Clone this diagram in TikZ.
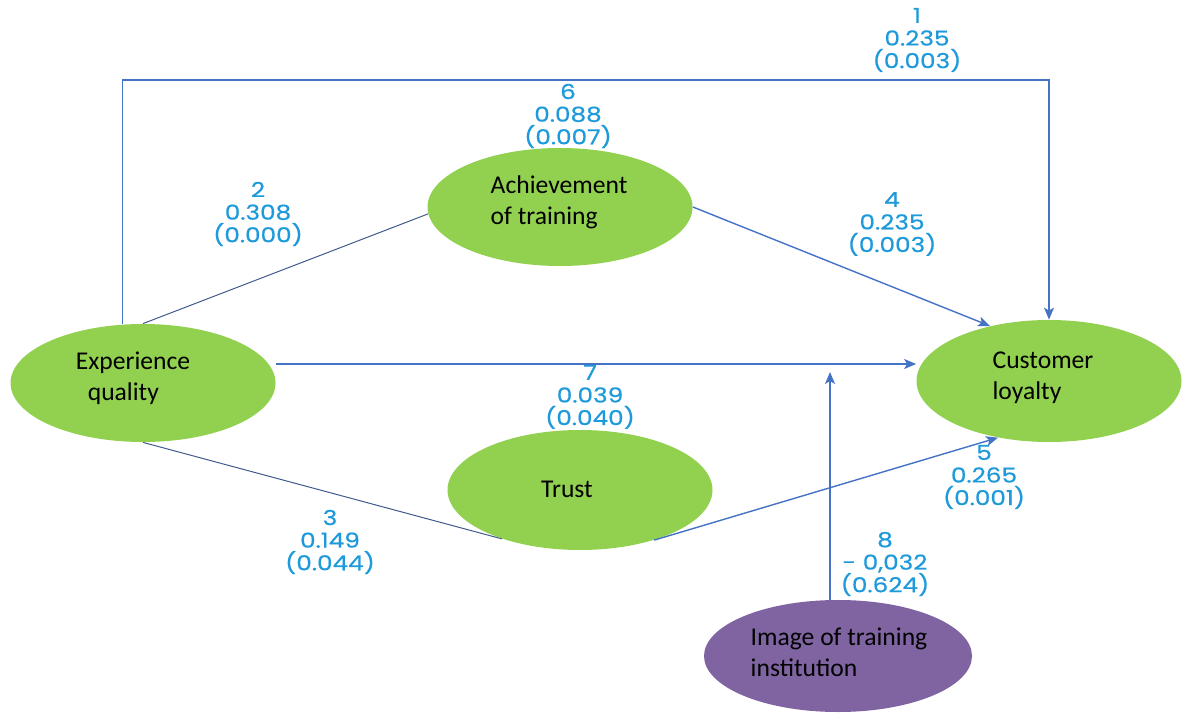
\documentclass[tikz,border=0pt]{standalone}
\usepackage{fontspec}
\setmainfont{Carlito}
\newfontfamily\labfont[FakeBold=0.5]{Poppins}
\usetikzlibrary{shapes.geometric,arrows.meta}
\definecolor{leaf}{HTML}{92D050}
\definecolor{plum}{HTML}{8064A2}
\definecolor{arrowblue}{HTML}{4472C4}
\definecolor{darkline}{HTML}{3F5A8C}
\definecolor{labblue}{HTML}{1E9ADB}
\tikzset{
  blob/.style={ellipse, fill=leaf, draw=none, inner sep=0pt, minimum width=132.5pt, minimum height=59pt},
  ntext/.style={font=\fontsize{12.8}{15.5}\selectfont, align=left, inner sep=0pt, text=black},
  lab/.style={font=\labfont\fontsize{10.3}{11.3}\selectfont, align=center, text=labblue, inner sep=0pt, xscale=1.2, transform shape},
  arr/.style={draw=arrowblue, line width=0.7pt, -{Stealth[length=6pt,width=5pt,inset=1.5pt]}},
  plain/.style={draw=darkline, line width=0.5pt}
}
\begin{document}
\begin{tikzpicture}[x=0.5pt,y=-0.5pt]
\useasboundingbox (0,0) rectangle (1184,717);
% ellipses
\node[blob] (eq) at (143,383) {};
\node[blob] (ach) at (560,207) {};
\node[blob, minimum height=61pt] (cl) at (1049,381) {};
\node[blob, minimum height=60pt] (tru) at (580,490) {};
\node[blob, fill=plum, minimum width=134pt, minimum height=56pt] (img) at (838,656) {};
% texts
\node[ntext] (eqt) at (133,378) {Experience\\\hspace*{6pt}quality};
\node[ntext] (acht) at (559,202) {Achievement\\of training};
\node[ntext] (clt) at (1043,378) {Customer\\loyalty};
\node[ntext] (trut) at (567,489) {Trust};
\node[ntext] (imgt) at (839,652) {Image of training\\institution};
% connectors
\coordinate (tr) at (1049,80);
\coordinate (imgtip) at (830,372);
\draw[arr] (eq.109) |- (tr) -- (cl.north);
\draw[plain] (eq.north) -- (ach.183);
\draw[arr] (ach.east) -- (cl.137);
\draw[arr] ([yshift=9.5pt]eq.east) -- ([yshift=9.5pt]eq.east -| cl.west);
\draw[plain] (eq.south) -- (tru.212);
\draw[arr] (tru.326) -- (cl.228);
\draw[arr] ([xshift=-4pt]img.north) -- (imgtip);
% labels
\node[lab] (l1) at (917,40) {1\\0.235\\(0.003)};
\node[lab] (l6) at (568,116) {6\\0.088\\(0.007)};
\node[lab] (l2) at (258,214) {2\\0.308\\(0.000)};
\node[lab] (l4) at (892,224) {4\\0.235\\(0.003)};
\node[lab] (l7) at (590,397) {7\\0.039\\(0.040)};
\node[lab] (l5) at (984,477) {5\\0.265\\(0.001)};
\node[lab] (l3) at (330,542) {3\\0.149\\(0.044)};
\node[lab] (l8) at (885,564) {8\\- 0,032\\(0.624)};
\end{tikzpicture}
\end{document}
